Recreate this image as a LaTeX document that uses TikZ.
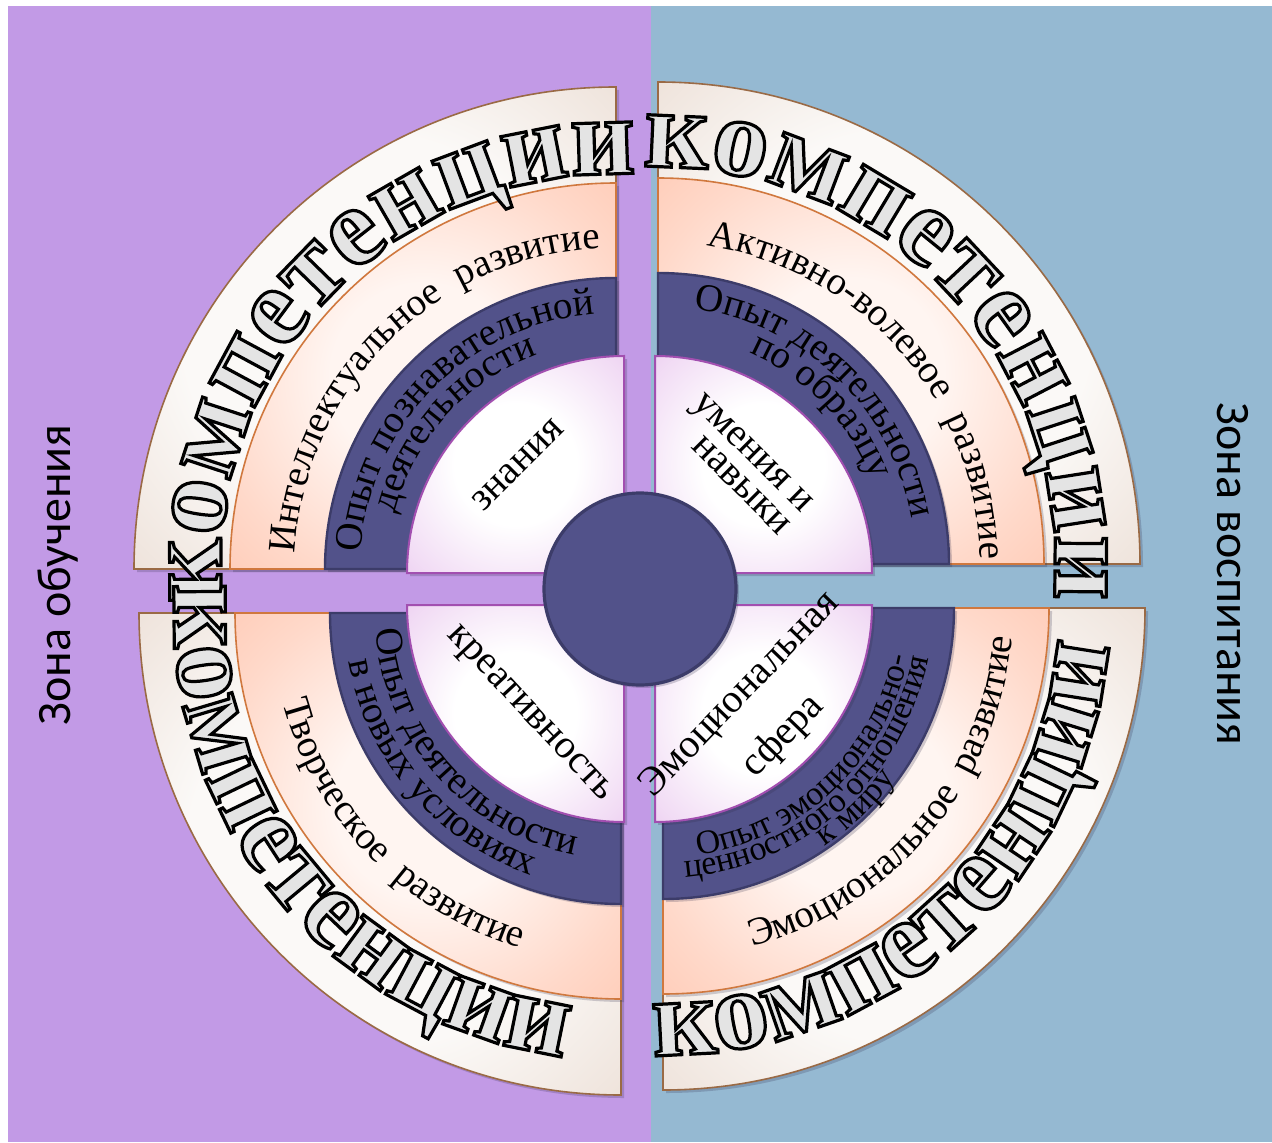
\documentclass[tikz,border=0pt]{standalone}
\usepackage{fontspec}
\setmainfont{Liberation Serif}
\newfontfamily\zonefont{Carlito}
\usetikzlibrary{decorations.text}
\definecolor{kmpViolet}{HTML}{C29AE6}
\definecolor{kmpBlue}{HTML}{95B9D2}
\definecolor{kmpBeigeEdge}{HTML}{E2CDBF}
\definecolor{kmpBeigeLight}{HTML}{FBF9F7}
\definecolor{kmpBeigeLine}{HTML}{9A6A45}
\definecolor{kmpPeachEdge}{HTML}{FFC2AA}
\definecolor{kmpPeachLight}{HTML}{FFF5F1}
\definecolor{kmpPeachLine}{HTML}{D0783E}
\definecolor{kmpNavy}{HTML}{52528A}
\definecolor{kmpNavyLine}{HTML}{3C3C69}
\definecolor{kmpPinkEdge}{HTML}{E4B8EA}
\definecolor{kmpPinkLight}{HTML}{FFFFFF}
\definecolor{kmpPinkLine}{HTML}{A24FB0}
\definecolor{kmpLetter}{HTML}{E4E4E4}
\definecolor{kmpShadow}{HTML}{2E2B4A}
\pgfdeclareradialshading{kmpBeigeShade}{\pgfpoint{0bp}{0bp}}{color(0bp)=(kmpBeigeLight); color(20bp)=(kmpBeigeLight); color(34bp)=(kmpBeigeLight!55!kmpBeigeEdge); color(48bp)=(kmpBeigeEdge)}
\pgfdeclareradialshading{kmpPeachShade}{\pgfpoint{0bp}{0bp}}{color(0bp)=(kmpPeachLight); color(12bp)=(kmpPeachLight); color(28bp)=(kmpPeachLight!45!kmpPeachEdge); color(44bp)=(kmpPeachEdge)}
\pgfdeclareradialshading{kmpPinkShade}{\pgfpoint{0bp}{0bp}}{color(0bp)=(kmpPinkLight); color(14bp)=(kmpPinkLight); color(32bp)=(kmpPinkLight!50!kmpPinkEdge); color(48bp)=(kmpPinkEdge)}
% text formats
\newcommand\kmpbig{\fontsize{56}{62}\selectfont\bfseries\color{kmpLetter}\special{pdf:literal direct 0 0 0 RG 1.6 w 2 Tr}}
\newcommand\kmpring{\fontsize{19.5}{22}\selectfont}
\newcommand\kmpsmall{\fontsize{17}{20}\selectfont}
% one quarter of a ring: centre, start angle, radius, style
\newcommand\kmpquarter[4]{\path[#4] (#1) -- ([shift={(#2:#3)}]#1) arc[start angle=#2, end angle=#2+90, radius=#3] -- cycle;}
\tikzset{
  kmpshadow/.style={preaction={fill=kmpShadow,opacity=0.22,transform canvas={xshift=1.5pt,yshift=-1.5pt}}},
  kmpouter/.style={kmpshadow,shade,shading=kmpBeigeShade,draw=kmpBeigeLine,line width=0.8pt},
  kmpmid/.style={kmpshadow,shade,shading=kmpPeachShade,draw=kmpPeachLine,line width=0.8pt},
  kmpinner/.style={kmpshadow,fill=kmpNavy,draw=kmpNavyLine,line width=1.2pt},
  kmpcore/.style={kmpshadow,shade,shading=kmpPinkShade,draw=kmpPinkLine,line width=1pt},
  kmphub/.style={circle,fill=kmpNavy,draw=kmpNavyLine,line width=1.6pt,minimum size=96pt,inner sep=0pt},
  kmppink/.style={font=\fontsize{20}{16}\selectfont,align=center,inner sep=0pt},
  kmpzone/.style={font=\zonefont\fontsize{24}{28}\selectfont,inner sep=0pt},
  kmparc/.style={decorate,decoration={text along path,text={#1},text align=center}},
}
\begin{document}
\begin{tikzpicture}[x=0.5pt,y=0.5pt]
  \useasboundingbox (0,0) rectangle (1272,1142);
  \fill[kmpViolet] (8,0) rectangle (651,1136);
  \fill[kmpBlue] (651,0) rectangle (1272,1136);

  \coordinate (cTL) at (616,573);
  \coordinate (cTR) at (658,578);
  \coordinate (cBL) at (621,529);
  \coordinate (cBR) at (663,534);
  \coordinate (pTL) at (624,569);
  \coordinate (pTR) at (655,569);
  \coordinate (pBL) at (624,537);
  \coordinate (pBR) at (655,537);

  % rings, outside in
  \kmpquarter{cTL}{90}{482}{kmpouter}
  \kmpquarter{cTR}{0}{482}{kmpouter}
  \kmpquarter{cBL}{180}{482}{kmpouter}
  \kmpquarter{cBR}{270}{482}{kmpouter}
  \kmpquarter{cTL}{90}{386}{kmpmid}
  \kmpquarter{cTR}{0}{386}{kmpmid}
  \kmpquarter{cBL}{180}{386}{kmpmid}
  \kmpquarter{cBR}{270}{386}{kmpmid}
  \kmpquarter{cTL}{90}{291}{kmpinner}
  \kmpquarter{cTR}{0}{291}{kmpinner}
  \kmpquarter{cBL}{180}{291}{kmpinner}
  \kmpquarter{cBR}{270}{291}{kmpinner}
  \kmpquarter{pTL}{90}{217}{kmpcore}
  \kmpquarter{pTR}{0}{217}{kmpcore}
  \kmpquarter{pBL}{180}{217}{kmpcore}
  \kmpquarter{pBR}{270}{217}{kmpcore}
  \node[kmphub,kmpshadow] (hub) at (640,553) {};

  % outer word
  \begin{scope}
    \path[kmparc={|\kmpbig|компетенции}] ([shift={(192:395)}]cTL) arc[start angle=192,end angle=80,radius=395];
    \path[kmparc={|\kmpbig|компетенции}] ([shift={(99.5:397)}]cTR) arc[start angle=99.5,end angle=-12.5,radius=397];
    \path[kmparc={|\kmpbig|компетенции}] ([shift={(163:447)}]cBL) arc[start angle=163,end angle=276,radius=447];
    \path[kmparc={|\kmpbig|компетенции}] ([shift={(256:447)}]cBR) arc[start angle=256,end angle=368,radius=447];
  \end{scope}

  % development ring
  \path[kmparc={|\kmpring|Интеллектуальное{\ }{\ }развитие}] ([shift={(200:321)}]cTL) arc[start angle=200,end angle=70,radius=321];
  \path[kmparc={|\kmpring|Активно-волевое{\ }{\ }развитие}] ([shift={(106:322)}]cTR) arc[start angle=106,end angle=-24,radius=322];
  \path[kmparc={|\kmpring|Творческое{\ }{\ }развитие}] ([shift={(160:350)}]cBL) arc[start angle=160,end angle=288,radius=350];
  \path[kmparc={|\kmpring|Эмоциональное{\ }{\ }развитие}] ([shift={(256:350)}]cBR) arc[start angle=256,end angle=384,radius=350];

  % experience ring
  \path[kmparc={|\kmpring|Опыт познавательной}] ([shift={(200:256)}]cTL) arc[start angle=200,end angle=71,radius=256];
  \path[kmparc={|\kmpring|деятельности}] ([shift={(203:228)}]cTL) arc[start angle=203,end angle=73,radius=228];
  \path[kmparc={|\kmpring|Опыт деятельности}] ([shift={(111:258)}]cTR) arc[start angle=111,end angle=-19,radius=258];
  \path[kmparc={|\kmpring|по образцу}] ([shift={(109:230)}]cTR) arc[start angle=109,end angle=-21,radius=230];
  \path[kmparc={|\kmpring|Опыт деятельности}] ([shift={(156:246)}]cBL) arc[start angle=156,end angle=287,radius=246];
  \path[kmparc={|\kmpring|в новых условиях}] ([shift={(155:277)}]cBL) arc[start angle=155,end angle=286,radius=277];
  \path[kmparc={|\kmpsmall|Опыт эмоционально-}] ([shift={(248:250)}]cBR) arc[start angle=248,end angle=379,radius=250];
  \path[kmparc={|\kmpsmall|ценностного отношения}] ([shift={(247:270)}]cBR) arc[start angle=247,end angle=377,radius=270];
  \path[kmparc={|\kmpsmall|к миру}] ([shift={(249:288)}]cBR) arc[start angle=249,end angle=379,radius=288];

  % core sectors
  \node[kmppink,rotate=45] (know) at (518,677) {знания};
  \node[kmppink,rotate=-45,align=right] (skill) at (742,678) {умения и\\навыки};
  \node[kmppink,rotate=-47] (creat) at (528,427) {креативность};
  \node[kmppink,rotate=46,font=\fontsize{20}{30}\selectfont] (emot) at (762,426) {Эмоциональная\\сфера};

  % zones
  \node[kmpzone,rotate=90] (zoneL) at (58,567) {Зона обучения};
  \node[kmpzone,rotate=-90] (zoneR) at (1233,568) {Зона воспитания};
\end{tikzpicture}
\end{document}
